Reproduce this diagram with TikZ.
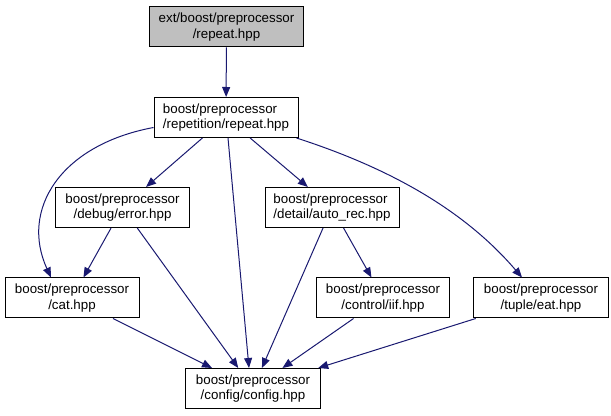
\documentclass[tikz,border=0pt]{standalone}
\usepackage{fontspec}
\setmainfont{Liberation Sans}
\usetikzlibrary{arrows.meta}
\definecolor{edgeblue}{HTML}{191970}
\definecolor{rootgray}{HTML}{BFBFBF}
\begin{document}
\begin{tikzpicture}[x=0.75pt, y=-0.75pt,
        file/.style={rectangle, draw=black, line width=0.75pt, fill=white, minimum height=30pt, inner sep=0pt, align=center, font=\fontsize{10}{11.5}\selectfont},
        root/.style={file, fill=rootgray},
        dep/.style={draw=edgeblue, line width=0.75pt, -{Triangle[length=7.5pt, width=6pt]}}
    ]
    \useasboundingbox (0,0) rectangle (611,416);
    % files
    \node[root, minimum width=116pt] (top) at (226.5,27) {ext/boost/preprocessor\\/repeat.hpp};
    \node[file, minimum width=108pt, align=left] (repeat) at (226,117.5) {boost/preprocessor\\/repetition/repeat.hpp};
    \node[file, minimum width=100pt] (error) at (122.5,207.5) {boost/preprocessor\\/debug/error.hpp};
    \node[file, minimum width=100.5pt, align=left] (autorec) at (332,207.5) {boost/preprocessor\\/detail/auto\_rec.hpp};
    \node[file, minimum width=100.5pt] (cat) at (72,298) {boost/preprocessor\\/cat.hpp};
    \node[file, minimum width=100pt] (iif) at (383,298) {boost/preprocessor\\/control/iif.hpp};
    \node[file, minimum width=101pt] (eat) at (541,298) {boost/preprocessor\\/tuple/eat.hpp};
    \node[file, minimum width=101pt] (config) at (253,388.5) {boost/preprocessor\\/config/config.hpp};
    % includes
    \draw[dep] (top) -- (repeat);
    \draw[dep] ([yshift=-7.5pt]repeat.west) .. controls (60,145) and (20,210) .. ([xshift=-15.75pt]cat.north);
    \draw[dep] (repeat) -- (error);
    \draw[dep] ([xshift=1.5pt]repeat.south) -- ([xshift=-3pt]config.north);
    \draw[dep] (repeat) -- (autorec);
    \draw[dep] ([xshift=-1.5pt]repeat.south east) .. controls (380,165) and (460,205) .. ([xshift=-14.25pt]eat.north);
    \draw[dep] (error) -- (cat);
    \draw[dep] (error) -- (config);
    \draw[dep] (autorec) -- (config);
    \draw[dep] (autorec) -- (iif);
    \draw[dep] (cat) -- (config);
    \draw[dep] (iif) -- (config);
    \draw[dep] (eat) -- (config);
\end{tikzpicture}
\end{document}
